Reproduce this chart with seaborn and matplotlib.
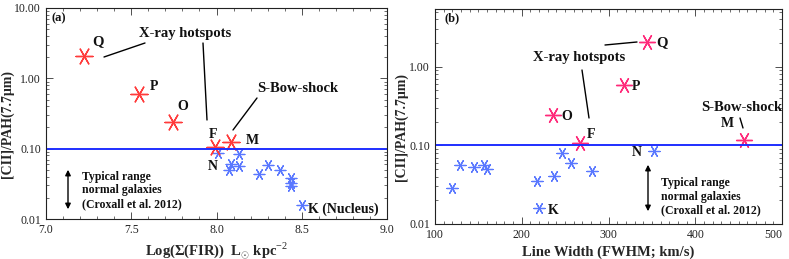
import numpy as np
import pandas as pd
import seaborn as sns
import matplotlib
matplotlib.use("Agg")
import matplotlib.pyplot as plt
from matplotlib.ticker import MultipleLocator, NullFormatter, LogLocator

# ---------------- data ----------------
hot_labels = ["Q", "P", "O", "F", "M"]
a_red_x = [7.22, 7.545, 7.745, 7.99, 8.085]
a_red_y = [2.1, 0.60, 0.237, 0.107, 0.125]
a_blue_x = [8.01, 8.13, 8.085, 8.075, 8.13, 8.25, 8.30, 8.37, 8.435, 8.435, 8.435, 8.50]
a_blue_y = [0.088, 0.085, 0.061, 0.050, 0.057, 0.043, 0.058, 0.049, 0.038, 0.033, 0.029, 0.016]

b_red_x = [344, 318, 236, 267, 456]
b_red_y = [2.07, 0.59, 0.24, 0.106, 0.116]
b_blue_x = [120, 129, 145, 156, 160, 218, 220, 237, 246, 257, 281, 352]
b_blue_y = [0.0286, 0.057, 0.053, 0.056, 0.050, 0.035, 0.016, 0.041, 0.081, 0.059, 0.047, 0.084]

y_ticks = [0.01, 0.10, 1.00, 10.00]
y_ticklabels = ["0.01", "0.10", "1.00", "10.00"]
a_xticks = [7.0, 7.5, 8.0, 8.5, 9.0]
b_xticks = [100, 200, 300, 400, 500]
ref_level = 0.10

sns.set_style("ticks")
serif = ["Liberation Serif", "DejaVu Serif"]
plt.rcParams["font.family"] = serif
plt.rcParams["mathtext.fontset"] = "custom"
plt.rcParams["mathtext.rm"] = "Liberation Serif"
plt.rcParams["mathtext.bf"] = "Liberation Serif:bold"

W, H = 789, 259
fig = plt.figure(figsize=(W / 100, H / 100), dpi=100)

def px_ax(l, t, r, b):
    return fig.add_axes([l / W, 1 - b / H, (r - l) / W, (b - t) / H])

axa = px_ax(46, 8, 387, 219)
axb = px_ax(435, 9, 782, 224)

mk = (6, 2, 90)
red_a = "#ff3b3b"
red_b = "#ff2a7a"
blue = "#5a78ff"

da_r = pd.DataFrame({"x": a_red_x, "y": a_red_y})
da_b = pd.DataFrame({"x": a_blue_x, "y": a_blue_y})
db_r = pd.DataFrame({"x": b_red_x, "y": b_red_y})
db_b = pd.DataFrame({"x": b_blue_x, "y": b_blue_y})

sns.scatterplot(data=da_b, x="x", y="y", ax=axa, marker=mk, s=60, color=blue, linewidth=0.9, edgecolor=blue)
sns.scatterplot(data=da_r, x="x", y="y", ax=axa, marker=mk, s=150, color=red_a, linewidth=1.0, edgecolor=red_a)
sns.scatterplot(data=db_b, x="x", y="y", ax=axb, marker=mk, s=65, color=blue, linewidth=0.9, edgecolor=blue)
sns.scatterplot(data=db_r, x="x", y="y", ax=axb, marker=mk, s=130, color=red_b, linewidth=1.0, edgecolor=red_b)

for ax in (axa, axb):
    ax.set_yscale("log")
    ax.axhline(ref_level, color="#1f2fff", lw=1.4, zorder=1)
    ax.set_yticks(y_ticks)
    ax.set_yticklabels(y_ticklabels)
    ax.yaxis.set_minor_locator(LogLocator(base=10, subs=np.arange(2, 10)))
    ax.yaxis.set_minor_formatter(NullFormatter())
    ax.tick_params(which="both", direction="in", top=True, right=True, labelsize=8.5, colors="#333333")
    ax.tick_params(which="major", length=5, width=0.6)
    ax.tick_params(which="minor", length=2.5, width=0.5)
    for s in ax.spines.values():
        s.set_linewidth(0.8)
        s.set_color("#222222")
    ax.set_ylabel("[CII]/PAH(7.7\u03bcm)", fontsize=10, fontweight="bold")
    for lab in ax.get_xticklabels() + ax.get_yticklabels():
        lab.set_color("#222222")

axa.yaxis.set_label_coords((14 - 46) / 341, 0.45)
axb.yaxis.set_label_coords((408 - 435) / 347, 0.45)

axa.set_xlim(7.0, 9.0)
axa.set_ylim(0.01, 10.0)
axa.set_xticks(a_xticks)
axa.set_xticklabels([f"{v:.1f}" for v in a_xticks])
axa.xaxis.set_minor_locator(MultipleLocator(0.1))
axa.set_xlabel("Log(\u03a3(FIR))  L$_{\\odot}$ kpc$^{-2}$", fontsize=10.5, fontweight="bold", labelpad=3)

axb.set_xlim(100, 500)
axb.set_ylim(0.01, 5.4)
axb.set_xticks(b_xticks)
axb.set_xticklabels([str(v) for v in b_xticks])
axb.xaxis.set_minor_locator(MultipleLocator(10))
axb.set_xlabel("Line Width (FWHM; km/s)", fontsize=10.5, fontweight="bold", labelpad=3)
axb.set_yticks([0.01, 0.10, 1.00])
axb.set_yticklabels(["0.01", "0.10", "1.00"])
axb.get_xticklabels()[-1].set_horizontalalignment("right")

# ---------------- annotations (pixel placed) ----------------
def T(x, y, s, size=10, ha="center", **kw):
    fig.text(x / W, 1 - y / H, s, fontsize=size, fontweight="bold", ha=ha, va="center",
             family=serif, color="#111111", **kw)

def L(x0, y0, x1, y1):
    fig.add_artist(plt.Line2D([x0 / W, x1 / W], [1 - y0 / H, 1 - y1 / H], color="black", lw=1.0))

def A(x, y0, y1):
    fig.add_artist(matplotlib.patches.FancyArrowPatch((x / W, 1 - y0 / H), (x / W, 1 - y1 / H),
                   transform=fig.transFigure, arrowstyle="<|-|>", mutation_scale=8, color="black", lw=1.0))

# panel (a)
T(52, 18, "(a)", 9, ha="left")
T(98, 42, "Q", 10.5)
T(154, 86, "P", 10)
T(183, 106, "O", 10)
T(213, 134, "F", 10)
T(252, 140, "M", 10)
T(213, 166, "N", 10)
T(343, 209, "K (Nucleus)", 10)
T(185, 33, "X-ray hotspots", 10.5)
L(104, 57, 145, 43)
L(203, 43, 207, 120)
T(298, 88, "S-Bow-shock", 10.5)
L(257, 98, 233, 130)
T(82, 177, "Typical range", 8.5, ha="left")
T(82, 190, "normal galaxies", 8.5, ha="left")
T(82, 204, "(Croxall et al. 2012)", 8.5, ha="left")
A(68, 167, 212)

# panel (b)
T(444, 18, "(b)", 9, ha="left")
T(662, 43, "Q", 10.5)
T(636, 86, "P", 10)
T(567, 117, "O", 10)
T(591, 134, "F", 10)
T(727, 124, "M", 10)
T(637, 153, "N", 10)
T(553, 210, "K", 10)
T(579, 58, "X-ray hotspots", 10.5)
L(605, 45, 637, 42)
L(582, 70, 589, 118)
T(742, 107, "S-Bow-shock", 10.5)
L(740, 118, 743, 128)
T(661, 183, "Typical range", 8.5, ha="left")
T(661, 197, "normal galaxies", 8.5, ha="left")
T(661, 210, "(Croxall et al. 2012)", 8.5, ha="left")
A(648, 162, 214)

fig.savefig("out.png", dpi=100)
